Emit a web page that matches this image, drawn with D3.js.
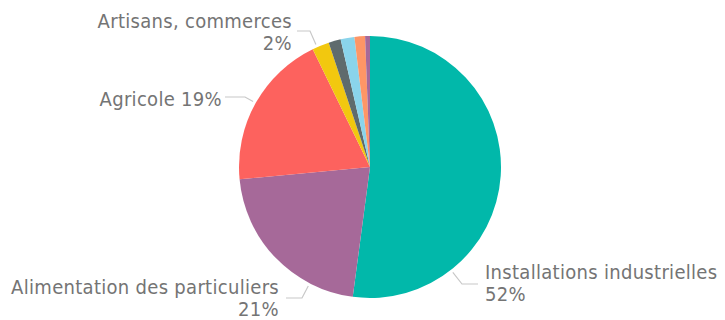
<!DOCTYPE html>
<html>
<head>
<meta charset="utf-8">
<script src="https://cdn.jsdelivr.net/npm/d3@7"></script>
<style>
  html, body { margin: 0; padding: 0; background: #ffffff; }
  svg { display: block; }
  .lbl { font-family: "DejaVu Sans Condensed", "Roboto", sans-serif; font-size: 20px; letter-spacing: 0.3px; fill: #747474; }
</style>
</head>
<body>
<svg id="chart" width="725" height="320"></svg>
<script>
// ---- data ----
const categories = [
  "Installations industrielles",
  "Alimentation des particuliers",
  "Agricole",
  "Artisans, commerces",
  "Autres usages",
  "Loisirs",
  "Services publics",
  "Divers"
];
const values = [52.1, 21.4, 19.3, 2.1, 1.5, 1.7, 1.3, 0.6];
const percentLabels = ["52%", "21%", "19%", "2%", "", "", "", ""];
const colors = ["#01B8AA", "#A66999", "#FD625E", "#F2C80F", "#5F6B6D", "#8AD4EB", "#FE9666", "#A66999"];

// ---- layout (label placement only) ----
const cx = 370, cy = 167, radius = 131;
const labelLayout = [
  { i: 0, lines: ["Installations industrielles", "52%"], x: 485, y: 279, anchor: "start", lineStart: [478, 284], elbow: [462, 284] },
  { i: 1, lines: ["Alimentation des particuliers", "21%"], x: 279, y: 294, anchor: "end", lineStart: [286, 298], elbow: [302, 298] },
  { i: 2, lines: ["Agricole 19%"], x: 222, y: 106, anchor: "end", lineStart: [225, 97], elbow: [245, 97] },
  { i: 3, lines: ["Artisans, commerces", "2%"], x: 292, y: 28, anchor: "end", lineStart: [297, 31], elbow: [310, 31] }
];

const svg = d3.select("#chart");
const g = svg.append("g").attr("transform", `translate(${cx},${cy})`);

const data = categories.map((c, i) => ({ name: c, value: values[i], color: colors[i] }));
const pie = d3.pie().value(d => d.value).sort(null);
const arcs = pie(data);
const arc = d3.arc().innerRadius(0).outerRadius(radius);

g.selectAll("path.slice")
  .data(arcs)
  .join("path")
  .attr("class", "slice")
  .attr("d", arc)
  .attr("fill", d => d.data.color);

// leader lines + labels
labelLayout.forEach(L => {
  const a = arcs[L.i];
  const ex = L.elbow[0] - cx, ey = L.elbow[1] - cy;
  let ang = Math.atan2(ex, -ey);
  if (ang < 0) ang += 2 * Math.PI;
  const pad = 0.01;
  ang = Math.max(a.startAngle + pad, Math.min(a.endAngle - pad, ang));
  const rr = radius + 3;
  const ax = cx + rr * Math.sin(ang), ay = cy - rr * Math.cos(ang);
  svg.append("polyline")
    .attr("points", [[ax, ay], L.elbow, L.lineStart].map(p => p.join(",")).join(" "))
    .attr("fill", "none")
    .attr("stroke", "#c8c8c8")
    .attr("stroke-width", 1.2);
  const t = svg.append("text").attr("class", "lbl").attr("text-anchor", L.anchor);
  L.lines.forEach((ln, k) => {
    t.append("tspan").attr("x", L.x).attr("y", L.y + k * 22).text(ln);
  });
});
</script>
</body>
</html>
